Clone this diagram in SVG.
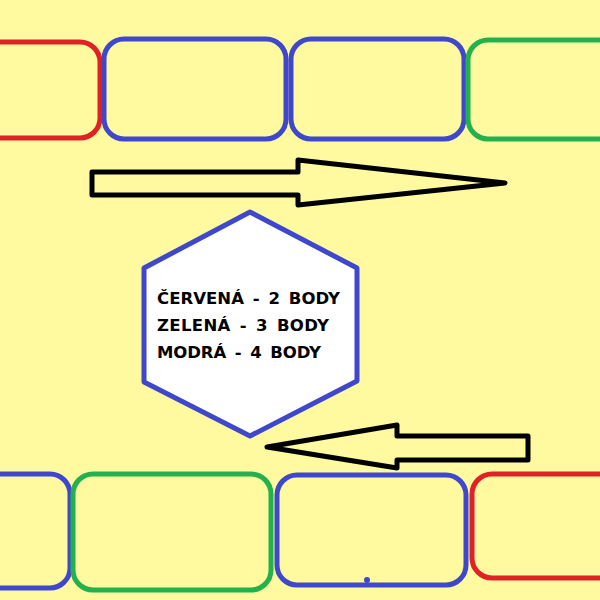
<svg xmlns="http://www.w3.org/2000/svg" width="600" height="600" viewBox="0 0 600 600">
<style>
.box{fill:none;stroke-width:5}
.r{stroke:#E02224}.b{stroke:#3F48CC}.g{stroke:#22B14C}
.arrow{fill:none;stroke:#000;stroke-width:5;stroke-linejoin:round}
.t{font-family:"DejaVu Sans","Liberation Sans",sans-serif;font-weight:bold;font-size:16.5px;fill:#000;word-spacing:3px}
</style>
<rect width="600" height="600" fill="#FFF9A0"/>
<g id="top-row">
<rect id="top-red" class="box r" x="-40" y="42" width="140" height="96" rx="20"/>
<rect id="top-blue1" class="box b" x="104" y="39" width="182" height="100" rx="20"/>
<rect id="top-blue2" class="box b" x="291" y="39" width="173" height="100" rx="20"/>
<rect id="top-green" class="box g" x="468" y="40" width="180" height="99" rx="20"/>
</g>
<g id="bottom-row">
<rect id="bot-blue1" class="box b" x="-40" y="474" width="110" height="114" rx="20"/>
<rect id="bot-green" class="box g" x="73" y="474" width="198" height="116" rx="20"/>
<rect id="bot-blue2" class="box b" x="277" y="475" width="189" height="110" rx="20"/>
<circle cx="367" cy="580" r="3" fill="#3F48CC"/>
<rect id="bot-red" class="box r" x="472" y="474" width="180" height="104" rx="20"/>
</g>
<g id="hexagon">
<polygon points="250,212 357,268 357,381 250,436 144,382 144,268" fill="#fff" stroke="#3F48CC" stroke-width="5" stroke-linejoin="round"/>
<text class="t" x="157" y="304" textLength="183" lengthAdjust="spacing">ČERVENÁ - 2 BODY</text>
<text class="t" x="157" y="331" textLength="172" lengthAdjust="spacing">ZELENÁ - 3 BODY</text>
<text class="t" x="157" y="358" textLength="164" lengthAdjust="spacing">MODRÁ - 4 BODY</text>
</g>
<g id="connectors">
<path class="arrow" d="M92,172 L298,172 L298,160 L505,183 L298,205 L298,195 L92,195 Z"/>
<path class="arrow" d="M528,436 L397,436 L397,425 L267,447 L397,468 L397,460 L528,460 Z"/>
</g>
</svg>
